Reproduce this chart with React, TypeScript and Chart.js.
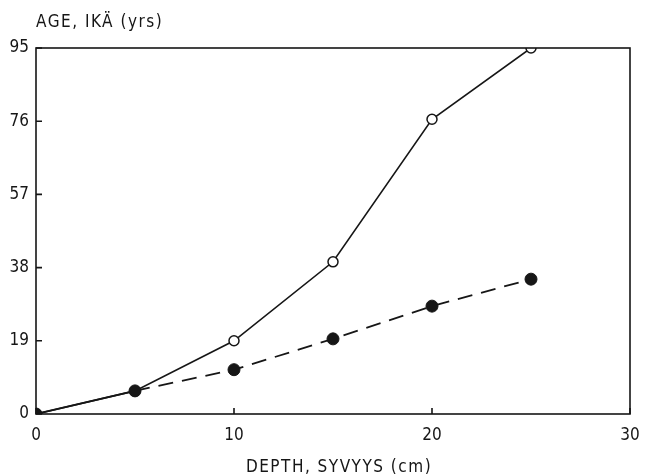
import React, { useEffect, useRef } from "react";
import { Chart, registerables } from "chart.js";

Chart.register(...registerables);

const depth = [0, 5, 10, 15, 20, 25];
const ageOpen = [0, 6, 19, 39.5, 76.5, 95];
const ageFilled = [0, 6, 11.5, 19.5, 28, 35];
const xTickValues = [0, 10, 20, 30];
const yTickValues = [0, 19, 38, 57, 76, 95];
const yTitle = "AGE, IKÄ (yrs)";
const xTitle = "DEPTH, SYVYYS (cm)";

const INK = "#161616";
const FONT = "'DejaVu Sans Condensed', 'Liberation Sans Narrow', 'DejaVu Sans', sans-serif";

const framePlugin = {
  id: "frame",
  afterDraw(chart: any) {
    const { ctx, chartArea, scales } = chart;
    ctx.save();
    ctx.strokeStyle = INK;
    ctx.lineWidth = 1.6;
    ctx.strokeRect(chartArea.left, chartArea.top, chartArea.right - chartArea.left, chartArea.bottom - chartArea.top);
    ctx.beginPath();
    scales.x.ticks.forEach((t: any, i: number) => {
      const px = scales.x.getPixelForTick(i);
      ctx.moveTo(px, chartArea.bottom);
      ctx.lineTo(px, chartArea.bottom - 6);
    });
    scales.y.ticks.forEach((t: any, i: number) => {
      const py = scales.y.getPixelForTick(i);
      ctx.moveTo(chartArea.left, py);
      ctx.lineTo(chartArea.left + 6, py);
    });
    ctx.stroke();
    ctx.fillStyle = INK;
    ctx.font = `17px ${FONT}`;
    (ctx as any).letterSpacing = "1.5px";
    ctx.textBaseline = "alphabetic";
    ctx.textAlign = "left";
    ctx.fillText(yTitle, chartArea.left, chartArea.top - 21);
    ctx.textAlign = "center";
    ctx.fillText(xTitle, (chartArea.left + chartArea.right) / 2 + 6, chartArea.bottom + 58);
    ctx.restore();
  },
};

export default function App() {
  const ref = useRef<HTMLCanvasElement>(null);
  useEffect(() => {
    if (!ref.current) return;
    const chart = new Chart(ref.current, {
      type: "line",
      data: {
        datasets: [
          {
            label: "filled",
            data: depth.map((d, i) => ({ x: d, y: ageFilled[i] })),
            borderColor: INK,
            borderWidth: 1.8,
            pointRadius: 6,
            pointBackgroundColor: INK,
            pointBorderColor: INK,
            pointBorderWidth: 1,
            segment: {
              borderDash: (c: any) => (c.p0DataIndex === 0 ? [] : [15, 9]),
            },
          },
          {
            label: "open",
            data: depth.map((d, i) => ({ x: d, y: ageOpen[i] })),
            borderColor: INK,
            borderWidth: 1.6,
            pointRadius: 5,
            pointBackgroundColor: "#ffffff",
            pointBorderColor: INK,
            pointBorderWidth: 1.5,
          },
        ],
      },
      options: {
        animation: false,
        responsive: false,
        layout: { padding: { top: 48, right: 22, left: 0, bottom: 0 } },
        plugins: { legend: { display: false }, tooltip: { enabled: false }, title: { display: false } },
        scales: {
          x: {
            type: "linear",
            min: 0,
            max: 30,
            afterBuildTicks: (s: any) => {
              s.ticks = xTickValues.map((v) => ({ value: v }));
            },
            afterFit: (s: any) => {
              s.height = 62;
            },
            grid: { display: false, drawTicks: false },
            border: { display: false },
            ticks: { color: INK, font: { family: FONT, size: 17 }, padding: 11, maxRotation: 0 },
            title: { display: false },
          },
          y: {
            type: "linear",
            min: 0,
            max: 95,
            afterBuildTicks: (s: any) => {
              s.ticks = yTickValues.map((v) => ({ value: v }));
            },
            afterFit: (s: any) => {
              s.width = 36;
            },
            grid: { display: false, drawTicks: false },
            border: { display: false },
            ticks: { color: INK, font: { family: FONT, size: 17 }, padding: 7 },
          },
        },
      },
      plugins: [framePlugin],
    } as any);
    return () => chart.destroy();
  }, []);
  return (
    <div style={{ position: "fixed", left: 0, top: 0, width: 652, height: 476, background: "#fff" }}>
      <canvas ref={ref} width={652} height={476} style={{ width: 652, height: 476 }} />
    </div>
  );
}
